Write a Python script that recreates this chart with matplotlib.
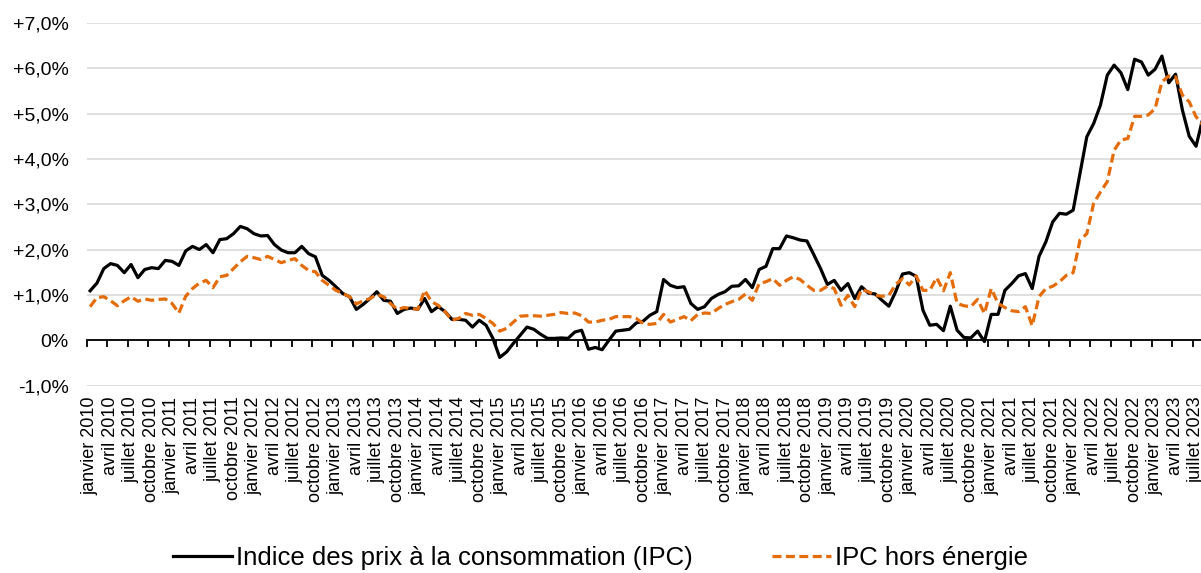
import matplotlib.pyplot as plt
import numpy as np

plt.rcParams['font.family'] = ['Liberation Sans', 'DejaVu Sans']

# monthly year-on-year change (%), janvier 2010 -> août 2023
mois = ['janvier', 'avril', 'juillet', 'octobre']
annees = list(range(2010, 2024))

ipc = [
    1.09, 1.26, 1.58, 1.69, 1.65, 1.49, 1.67, 1.38, 1.56, 1.60, 1.58, 1.76,
    1.74, 1.65, 1.97, 2.07, 2.00, 2.11, 1.93, 2.22, 2.24, 2.35, 2.51, 2.46,
    2.35, 2.30, 2.31, 2.11, 1.99, 1.93, 1.93, 2.07, 1.91, 1.84, 1.43, 1.32,
    1.18, 1.03, 0.96, 0.68, 0.79, 0.92, 1.07, 0.88, 0.86, 0.59, 0.68, 0.71,
    0.68, 0.92, 0.63, 0.74, 0.63, 0.46, 0.46, 0.44, 0.29, 0.44, 0.33, 0.04,
    -0.38, -0.26, -0.07, 0.11, 0.29, 0.24, 0.13, 0.04, 0.04, 0.05, 0.04, 0.18,
    0.22, -0.20, -0.16, -0.21, 0.00, 0.20, 0.22, 0.24, 0.38, 0.42, 0.55, 0.63,
    1.34, 1.21, 1.16, 1.18, 0.81, 0.68, 0.74, 0.92, 1.01, 1.07, 1.19, 1.20,
    1.34, 1.16, 1.56, 1.63, 2.02, 2.02, 2.30, 2.26, 2.21, 2.19, 1.89, 1.58,
    1.23, 1.32, 1.10, 1.25, 0.92, 1.18, 1.04, 1.02, 0.88, 0.75, 1.07, 1.46,
    1.49, 1.41, 0.66, 0.33, 0.35, 0.21, 0.75, 0.22, 0.06, 0.05, 0.20, -0.03,
    0.57, 0.57, 1.10, 1.25, 1.42, 1.47, 1.14, 1.85, 2.17, 2.61, 2.80, 2.78,
    2.87, 3.68, 4.49, 4.78, 5.19, 5.85, 6.07, 5.90, 5.53, 6.20, 6.14, 5.85,
    5.98, 6.27, 5.68, 5.87, 5.08, 4.50, 4.28, 4.90,
]

ipc_hors_energie = [
    0.74, 0.94, 0.96, 0.87, 0.76, 0.87, 0.96, 0.86, 0.91, 0.88, 0.90, 0.91,
    0.81, 0.60, 0.97, 1.14, 1.26, 1.32, 1.16, 1.40, 1.43, 1.58, 1.73, 1.85,
    1.82, 1.78, 1.85, 1.78, 1.71, 1.76, 1.80, 1.65, 1.54, 1.51, 1.32, 1.21,
    1.10, 1.03, 0.96, 0.80, 0.87, 0.92, 1.01, 0.96, 0.81, 0.68, 0.72, 0.70,
    0.68, 1.10, 0.85, 0.77, 0.63, 0.44, 0.48, 0.59, 0.55, 0.57, 0.48, 0.37,
    0.20, 0.26, 0.40, 0.53, 0.54, 0.54, 0.53, 0.55, 0.57, 0.61, 0.59, 0.60,
    0.54, 0.40, 0.40, 0.44, 0.46, 0.52, 0.52, 0.52, 0.48, 0.37, 0.35, 0.37,
    0.57, 0.40, 0.46, 0.52, 0.43, 0.57, 0.60, 0.59, 0.70, 0.79, 0.85, 0.90,
    1.02, 0.88, 1.25, 1.29, 1.36, 1.21, 1.32, 1.40, 1.34, 1.21, 1.10, 1.10,
    1.19, 1.14, 0.77, 0.99, 0.74, 1.12, 1.07, 0.99, 0.97, 0.99, 1.23, 1.36,
    1.22, 1.42, 1.10, 1.10, 1.38, 1.09, 1.49, 0.81, 0.76, 0.74, 0.90, 0.59,
    1.14, 0.81, 0.72, 0.65, 0.63, 0.74, 0.32, 0.96, 1.14, 1.19, 1.29, 1.43,
    1.49, 2.21, 2.35, 3.02, 3.27, 3.50, 4.19, 4.42, 4.45, 4.94, 4.94, 4.97,
    5.11, 5.70, 5.83, 5.81, 5.41, 5.26, 4.93, 4.75,
]

y_labels = ['-1,0%', '0%', '+1,0%', '+2,0%', '+3,0%', '+4,0%', '+5,0%', '+6,0%', '+7,0%']

n = len(ipc)
x = np.arange(n)

fig = plt.figure(figsize=(12.01, 5.73), dpi=100)
ax = fig.add_axes([0.0722, 0.3272, 0.9322, 0.6327])

ax.plot(x, ipc, color='black', lw=2.3, zorder=3,
        label='Indice des prix à la consommation (IPC)')
ax.plot(x, ipc_hors_energie, color='#E46C0A', lw=2.3, dashes=(2.8, 1.4), zorder=3,
        label='IPC hors énergie')

ax.set_xlim(-0.5, n - 0.5)
ax.set_ylim(-1, 7)
ax.set_yticks(range(-1, 8))
ax.set_yticklabels(y_labels)
ax.grid(axis='y', color='#D9D9D9', lw=1.2)
ax.set_axisbelow(True)
ax.tick_params(axis='y', length=0, pad=13, labelsize=14)
for s in ['top', 'right', 'left']:
    ax.spines[s].set_visible(False)

# axis line at 0 with tick marks between quarters
ax.spines['bottom'].set_position(('data', 0))
ax.spines['bottom'].set_linewidth(1.3)
ax.set_xticks(np.arange(-0.5, n, 3))
ax.tick_params(axis='x', length=5, width=1.3, direction='out', labelbottom=False)

# date labels below the plot area
centres = np.arange(0, n, 3)
labels = [f'{m} {a}' for a in annees for m in mois][:len(centres)]
sec = ax.secondary_xaxis('bottom')
sec.set_xticks(centres)
sec.set_xticklabels(labels)
sec.spines['bottom'].set_visible(False)
sec.tick_params(axis='x', length=0, pad=8, labelsize=13, labelrotation=90)

fig.legend(loc='lower center', bbox_to_anchor=(0.5, -0.035), ncol=2, frameon=False,
           fontsize=18.5, handlelength=2.3, handletextpad=0.15, columnspacing=3.1)

fig.savefig('out.png', dpi=100)
